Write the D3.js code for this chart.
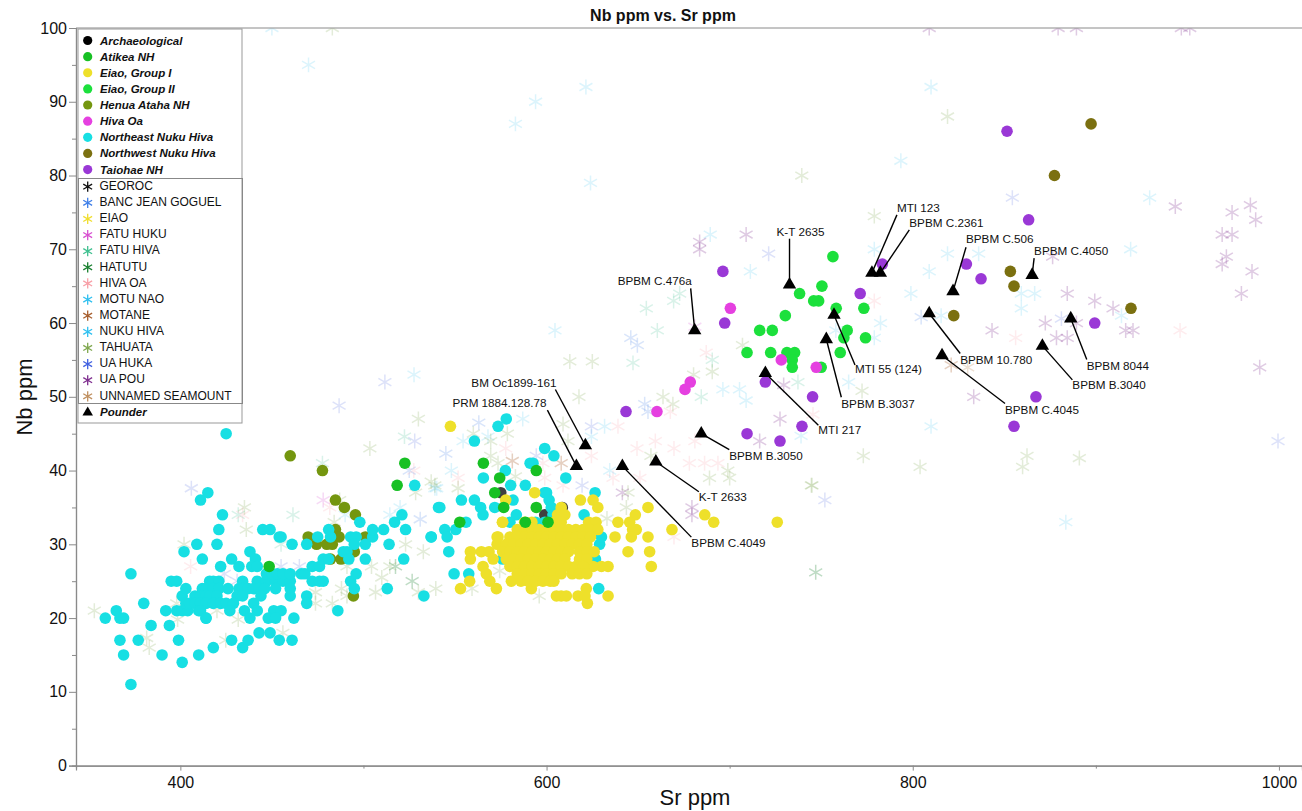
<!DOCTYPE html>
<html><head><meta charset="utf-8">
<script src="https://cdn.jsdelivr.net/npm/d3@7"></script>
<style>html,body{margin:0;padding:0;background:#fff}svg{display:block}text{font-family:"Liberation Sans",Arial,sans-serif;fill:#111}</style>
</head><body><svg id="c" width="1302" height="811"></svg>
<script>
const chartTitle="Nb ppm vs. Sr ppm", xTitle="Sr ppm", yTitle="Nb ppm";
const xDomain=[343,1012.6], yDomain=[0,100];
const xLabelled=[400,600,800,1000], xMinor=[500,700,900];
const yLabelled=[0,10,20,30,40,50,60,70,80,90,100], yMinor=[5,15,25,35,45,55,65,75,85,95];

// Sr, Nb pairs
const archaeological=[[575,37],[599,34],[608.6,35]];
const atikea=[[565.5,41],[594.4,40],[574.4,39],[571.7,37],[576.6,35],[594.4,35],[552.6,33],[588.4,33],[600.8,33],[522.6,41],[518.4,38],[448.5,27]];
const eiao1=[[547.5,46],[593.5,37],[618.5,36],[625.4,36],[628,35],[655.4,35],[648.5,34],[686.4,34],[691.3,33],[645.4,33],[639,33],[668.5,32],[647,32],[649,32],[646.3,31],[655.4,31],[637.4,31],[644.5,29],[656.3,29],[657.2,27],[633.6,27],[630,27],[625.4,27],[633.6,23],[622.3,22],[621.7,24],[617.2,23],[621,23],[605.4,23],[608,23],[610.8,23],[572.6,24],[553,24],[558,25],[569,25],[580.8,25],[591.7,24],[565.3,27],[567.1,26],[558.4,29],[558.4,28],[564.4,29],[568.6,29],[570.8,28],[573.5,31],[575.9,33],[577.7,36],[726,33],
[608,35],[606,34],[610,34],[576,33],[588,33],[592,33],[604,33],[608,33],[623,33],[627,33],
[584,32],[588,32],[592,32],[596,32],[600,32],[604,32],[608,32],[612,32],[616,32],[620,32],[624,32],[628,32],
[573,31],[580,31],[584,31],[588,31],[592,31],[596,31],[600,31],[604,31],[608,31],[612,31],[616,31],[620,31],[624,31],
[573,30],[578,30],[582,30],[586,30],[590,30],[594,30],[598,30],[602,30],[606,30],[610,30],[614,30],[618,30],[622,30],
[576,29],[580,29],[584,29],[588,29],[592,29],[596,29],[600,29],[604,29],[608,29],[612,29],[618,29],[622,29],[626,29],
[578,28],[582,28],[586,28],[590,28],[594,28],[598,28],[602,28],[606,28],[610,28],[618,28],[622,28],
[580,27],[584,27],[588,27],[592,27],[596,27],[600,27],[604,27],[608,27],[612,27],[616,27],[620,27],
[584,26],[588,26],[592,26],[596,26],[600,26],[604,26],[608,26],[614,26],[618,26],[622,26],
[586,25],[590,25],[594,25],[598,25],[602,25],[604,25]];
const eiao2=[[756.4,69],[750.4,65],[738.2,64],[745.9,63],[748.6,63],[758.2,62],[773.3,62],[730.4,61],[716.4,59],[723.3,59],[764.2,59],[762.4,58],[774.2,58],[709.5,56],[722.4,56],[731.3,56],[735.5,56],[760.4,56],[734.2,55],[734.2,54],[750,54]];
const henua=[[460,42],[477.6,40],[484.7,36],[489.6,35],[495.6,34],[484.7,32],[486.7,31],[469.8,31],[501,31],[474.4,30],[480,30],[483,30],[482,28],[487.7,28],[495,29],[494.5,23]];
const hivaOa=[[700.4,62],[728.2,55],[747.3,54],[678.5,52],[675.6,51],[660.3,48]];
const northeast=[[359,20],[365,21],[367,20],[369,20],[367,17],[369,15],[373,11],[373,26],[377,17],[380,22],[384,19],[390,15],[392,21],[394,19],[395,25],[398,25],[398,21],[399,17],[401,14],[402,29],[401,23],[403,24],[401,21],[404,21],[403,22],[409,30],[411,36],[415,37],[412,28],[410,15],[414,20],[418,16],[420,30],[421,32],[423,34],[422,27],[428,17],[428,28],[432,27],[425,45],[434,16],[437,17],[438,29],[441,28],[439,27],[442,27],[443,18],[449,18],[454,17],[461,17],[445,32],[449,32],[454,31],[455,31],[461,30],[469,30],[475,31],[481,32],[482,31],[486,21],[489,29],[491,29],[492,28],[493,25],[495,24],[496,26],[493,31],[496,31],[495,30],[498,33],[501,30],[501,28],[505,31],[505,32],[511,32],[513,24],[514,30],[517,33],[521,34],[523,32],[522,28],[528,38],[533,23],[537,31],[541,35],
[416,25],[418,25],[421,25],[434,25],[442,25],[447,25],[452,25],[456,25],[460,25],[447,26],[450,26],[453,26],[456,26],[460,26],[466,26],[468,26],
[412,24],[414,24],[418,24],[421,24],[426,24],[432,24],[434,24],[437,24],[440,24],[443,24],[446,24],[452,24],[460,24],
[408,23],[411,23],[414,23],[416,23],[420,23],[431,23],[434,23],[444,23],[460,23],[469,23],
[405,22],[408,22],[411,22],[414,22],[418,22],[422,22],[425,22],[429,22],[440,22],[469,22],
[410,21],[411,21],[427,21],[435,21],[442,21],[451,21],[455,21],[414,20],[438,20],[448,20],[452,20],[462,20],
[472,27],[476,27],[472,25],[476,25],[478,25],[478,28],[481,28],
[578,47],[573.5,46],[560.6,44],[599,43],[604,42],[591,41],[592.6,41],[577.5,40],[565.5,39],[610.5,39],[580.4,38],[588.4,38],[599,37],[600,37],[626.5,37],[581.7,36],[601.4,36],[553.5,36],[560.6,36],[564,35],[571.7,35],[541.7,35],[565.3,34],[583.5,34],[602.6,35],[603.5,34],[620.5,34],[556,33],[544.4,32],[550.4,32],[545.7,31],[537,31],[546.6,29],[549.5,26],[557.5,26],[628.5,24],[626.7,28],[629,30],[630,31],[580,33],[594,33],[599,33],[599,32],[576,28]];
const northwest=[[897.4,87],[877.4,80],[853.3,67],[855.3,65],[822.4,61],[919.2,62]];
const taiohae=[[696.3,67],[697.3,60],[771.3,64],[783.4,68],[719.5,52],[745.3,50],[739.5,46],[709.5,45],[727.5,44],[643.4,48],[851.5,86],[863.3,74],[829.3,68],[837.3,66],[899.4,60],[867.3,50],[855.3,46]];

const banc=[[646,58],[649.6,57],[653.6,49],[655.4,48],[804.6,60.8],[531,33.4],[525,40],[563,46.5],[545,42.3]];
const eiaoG=[[610,30]];
const fatuHuku=[[681,59.5],[478,36]];
const fatuHiva=[[654.5,62],[669.4,63],[672.7,64],[660.5,59],[647.2,54.6],[690.5,55],[684.5,50],[737.3,52],[477.6,41],[522.4,44.6],[431.6,34],[461.5,34],[455,30]];
const hatutu=[[747,26.2],[526.6,25],[517.5,27]];
const hivaOaG=[[551.7,39],[577.7,43],[599,39],[609,38],[624.5,42],[639,46],[649.4,43],[659.4,44],[669.6,43],[681,44],[636.3,39],[651,39],[669.6,31],[598,41],[678,41],[686.3,41],[693.6,41],[667.6,48],[687.2,56],[745.5,47.6],[779,63],[856.2,58],[946,59],[481.6,35],[434,34],[405.6,27],[527.5,40]];
const motuNao=[[470,95],[594,90],[583,87],[621.5,92],[624,79],[450,100]];
const motane=[[581.3,41.3],[608,41],[821,54.3]];
const nukuHiva=[[810,92],[793.5,82],[929.4,77],[919,70],[604.6,59],[527.6,53],[689.4,72],[711.3,67],[779,70],[819,69.4],[836,69.4],[809,67],[799,64],[782.4,60],[779,58],[815.5,61],[765,52],[696.3,51],[705.4,51],[709,49.5],[810,46],[739,44.7],[758,59],[859.3,64],[866.6,64],[859.3,62],[914,61],[883.6,33],[587,47],[554.4,44],[568,44.6],[548,40],[540,37.6],[631.7,46],[634.5,40],[624.5,44.6],[520,35],[514.4,34],[490,34],[539,37.6]];
const tahuata=[[779,74.5],[819,88],[739.4,80],[772.3,50.8],[773,42],[804,40.5],[862.4,42],[891,41.7],[860,40.5],[745,38],[700,39],[707,57],[680.3,53],[690.5,53.4],[663.6,50],[669,49],[657,42],[699,40],[689,39],[744.6,38],[643.6,35],[633,33.5],[644.5,37],[609,46.3],[611.7,44],[578.6,45],[569.5,44],[569.5,42],[573.5,41],[539,38],[551.7,37.6],[560,45],[539.5,24],[559.3,24],[596,23],[574.4,26.4],[583,39.2],[612.7,54.8],[625,54.8],[617.7,50],[530,47],[503.5,43],[435,35],[436,32],[402,30],[523,30],[532.7,29],[504.4,27],[510,25.5],[506.6,23.5],[514.4,27],[488,24],[491,27],[473.8,23.5],[473.8,22],[483,22],[484,33],[487,36],[381.6,17.3],[383,16],[353,21],[398.5,19.8],[420,21],[431.6,19.8],[424.8,17],[456,18],[398,22],[537,38.5],[528.5,37],[491,23],[530,23.5],[483,100]];
const uaHuka=[[854.4,77],[999.5,44],[881.2,60.6],[721.3,69.4],[406,37.6],[486.7,48.8],[528,44],[594.4,42],[624.5,46],[619.4,38],[455,27],[465,27],[424,26],[431,25],[752,36],[511.7,52]];
const uaPou=[[879.4,100],[889.4,100],[946.7,100],[951.3,100],[809,100],[943.4,75.8],[984.4,76],[974.4,75],[987.3,74],[969,72],[974.4,72],[971.3,69],[969,68],[985.3,67],[979.5,64],[876.4,69],[884.4,64],[899.4,63],[909.4,62],[872.4,60],[889.4,60],[843.3,59],[878.5,58],[884.4,58],[916.3,59],[920.3,59],[989.5,54],[833.3,50],[683.6,71],[683.6,70],[709,72],[727.5,47],[716.4,44],[729.5,51.6],[641.4,37],[679.4,35],[679.4,34]];
const unnamed=[[830,54]];
const pounder=[[680.9,59],[732.7,65.2],[777.7,66.8],[782.3,66.8],[822,64.3],[865.2,66.5],[809,61.3],[816,55.6],[870.8,56.9],[886.3,60.6],[757,61.1],[752.8,57.8],[719.5,53.2],[684.5,45],[659.7,41.2],[641.4,40.6],[621.2,43.4],[616.3,40.6]];

const pounderNames=["BPBM C.476a","K-T 2635","MTI 123","BPBM C.2361","BPBM C.506","BPBM C.4050","BPBM 10.780","BPBM C.4045","BPBM B.3040","BPBM 8044","MTI 55 (124)","BPBM B.3037","MTI 217","BPBM B.3050","K-T 2633","BPBM C.4049","BM Oc1899-161","PRM 1884.128.78"];
// label placement (px from the triangle): leader end dx,dy, text left dx,dy
const leaderOffsets=[[-4,-42,-77,-50],[0,-46,-13,-53],[25,-58,25,-65],[29,-43,29,-50],[13,-44,13,-52],[2,-17,2,-24],[31,40,31,46],[63,48,63,54],[30,34,30,39],[16,41,16,47],[21,50,21,54],[15,58,15,65],[53,52,53,57],[28,16,28,22],[43,30,43,35],[69,71,69,77],[-30,-56,-114,-63],[-29,-56,-124,-63]];

const circleNames=["Archaeological","Atikea NH","Eiao, Group I","Eiao, Group II","Henua Ataha NH","Hiva Oa","Northeast Nuku Hiva","Northwest Nuku Hiva","Taiohae NH"];
const circleColors=["#000000","#17c024","#eee02a","#1ce03c","#74960f","#e540e0","#17dfe3","#7b7010","#9a38d6"];
const circleData=[archaeological,atikea,eiao1,eiao2,henua,hivaOa,northeast,northwest,taiohae];
const drawOrder=[0,4,6,2,1,3,5,7,8];
const circleOpacity=[.75,1,1,1,1,1,1,1,1];
const starNames=["GEOROC","BANC JEAN GOGUEL","EIAO","FATU HUKU","FATU HIVA","HATUTU","HIVA OA","MOTU NAO","MOTANE","NUKU HIVA","TAHUATA","UA HUKA","UA POU","UNNAMED SEAMOUNT"];
const starColors=["#111111","#3f7fe8","#f0de30","#d850d0","#40c090","#1a8030","#f8a0a8","#30c0f0","#a86030","#30c0f0","#80a850","#4060e0","#803090","#c09060"];
const starData=[[],banc,eiaoG,fatuHuku,fatuHiva,hatutu,hivaOaG,motuNao,motane,nukuHiva,tahuata,uaHuka,uaPou,unnamed];
const starOpacity=[1,.2,.22,.22,.2,.28,.2,.17,.3,.17,.22,.18,.25,.28];

const svg=d3.select("#c");
const x=d3.scaleLinear().domain(xDomain).range([76,1302]);
const y=d3.scaleLinear().domain(yDomain).range([765.6,28]);
const asterisk={draw(c,s){const r=Math.sqrt(s);for(let i=0;i<3;i++){const a=i*Math.PI/3+Math.PI/2,dx=r*Math.cos(a),dy=r*Math.sin(a);c.moveTo(-dx,-dy);c.lineTo(dx,dy);}}};
const star=d3.symbol().type(asterisk).size(56);
const starSmall=d3.symbol().type(asterisk).size(26);
const tri=d3.symbol().type(d3.symbolTriangle).size(78);
const triSmall=d3.symbol().type(d3.symbolTriangle).size(48);

svg.append("clipPath").attr("id","plot").append("rect").attr("x",76).attr("y",28).attr("width",1226).attr("height",737.6);
const g=svg.append("g").attr("clip-path","url(#plot)");

starData.forEach((arr,i)=>{
  g.append("g").selectAll("path").data(arr).join("path").attr("d",star)
   .attr("transform",d=>`translate(${x(d[0])},${y(d[1])})`)
   .attr("fill","none").attr("stroke",starColors[i]).attr("stroke-width",1.5).attr("opacity",starOpacity[i]);
});
drawOrder.forEach(i=>{
  g.append("g").selectAll("circle").data(circleData[i]).join("circle")
   .attr("cx",d=>x(d[0])).attr("cy",d=>y(d[1])).attr("r",5.8).attr("fill",circleColors[i]).attr("opacity",circleOpacity[i]);
});

// axes
const axX=d3.axisBottom(x).tickValues(xLabelled).tickSize(5).tickPadding(6).tickFormat(d3.format("d"));
const gx=svg.append("g").attr("transform","translate(0,765.6)").call(axX);
const gx2=svg.append("g").attr("transform","translate(0,765.6)").call(d3.axisBottom(x).tickValues(xMinor).tickSize(3).tickFormat(""));
const axY=d3.axisLeft(y).tickValues(yLabelled).tickSize(7).tickPadding(2).tickFormat(d3.format("d"));
const gy=svg.append("g").attr("transform","translate(76,0)").call(axY);
const gy2=svg.append("g").attr("transform","translate(76,0)").call(d3.axisLeft(y).tickValues(yMinor).tickSize(4).tickFormat(""));
[gx,gx2,gy,gy2].forEach(s=>{s.selectAll("path,line").attr("stroke","#8a8a8a").attr("stroke-width",1);s.selectAll("text").attr("font-size",16).attr("font-family",'"Liberation Sans"').attr("fill","#111");s.select(".domain").attr("stroke-width",1.2);});
svg.append("line").attr("x1",76).attr("x2",1302).attr("y1",28).attr("y2",28).attr("stroke","#8a8a8a").attr("stroke-width",1);

// pounder + labels
const lg=svg.append("g");
pounder.forEach((d,i)=>{
  const px=x(d[0]),py=y(d[1]),o=leaderOffsets[i];
  lg.append("line").attr("x1",px).attr("y1",py).attr("x2",px+o[0]).attr("y2",py+o[1]).attr("stroke","#000").attr("stroke-width",1.4);
});
lg.selectAll("path").data(pounder).join("path").attr("d",tri).attr("transform",d=>`translate(${x(d[0])},${y(d[1])})`).attr("fill","#000");
pounder.forEach((d,i)=>{
  const o=leaderOffsets[i];
  lg.append("text").attr("x",x(d[0])+o[2]).attr("y",y(d[1])+o[3]).attr("dy","0.35em").attr("font-size",11.7).text(pounderNames[i]);
});

// legend
const L=svg.append("g");
const rowY=i=>40.5+i*16.13;
L.append("rect").attr("x",78).attr("y",29).attr("width",164).attr("height",394).attr("fill","#fff").attr("stroke","#999").attr("stroke-width",1);
L.append("rect").attr("x",78.5).attr("y",178.5).attr("width",164).attr("height",225).attr("fill","none").attr("stroke","#888").attr("stroke-width",1);
circleNames.forEach((n,i)=>{
  L.append("circle").attr("cx",87.7).attr("cy",rowY(i)).attr("r",4.6).attr("fill",circleColors[i]);
  L.append("text").attr("x",100).attr("y",rowY(i)).attr("dy","0.35em").attr("font-size",11.5).attr("font-weight","bold").attr("font-style","italic").text(n);
});
starNames.forEach((n,i)=>{
  const r=rowY(i+9);
  L.append("path").attr("d",starSmall).attr("transform",`translate(87.7,${r+1})`).attr("fill","none").attr("stroke",starColors[i]).attr("stroke-width",1.3);
  L.append("text").attr("x",99.5).attr("y",r).attr("dy","0.35em").attr("font-size",12).attr("fill","#222").text(n);
});
L.append("path").attr("d",triSmall).attr("transform",`translate(87.7,${rowY(23)+1})`).attr("fill","#000");
L.append("text").attr("x",100).attr("y",rowY(23)).attr("dy","0.35em").attr("font-size",11.5).attr("font-weight","bold").attr("font-style","italic").text("Pounder");

// titles
svg.append("text").attr("x",663).attr("y",21).attr("text-anchor","middle").attr("font-size",16).attr("font-weight","bold").text(chartTitle);
svg.append("text").attr("x",695).attr("y",805).attr("text-anchor","middle").attr("font-size",22).text(xTitle);
svg.append("text").attr("transform","translate(32,397) rotate(-90)").attr("text-anchor","middle").attr("font-size",22).text(yTitle);
</script></body></html>
